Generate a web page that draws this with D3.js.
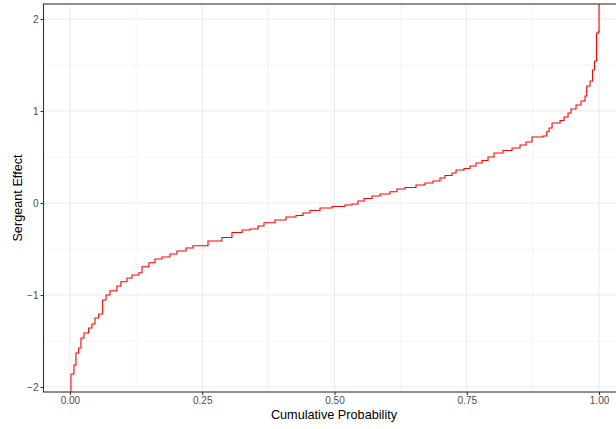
<!DOCTYPE html>
<html>
<head>
<meta charset="utf-8">
<script src="https://cdn.jsdelivr.net/npm/d3@7"></script>
<style>
  body { margin: 0; background: #fff; }
  svg { display: block; font-family: "Liberation Sans", Arial, sans-serif; }
</style>
</head>
<body>
<svg width="616" height="429"></svg>
<script>
// quantile curve (step after each point)
var prob = [0.0, 0.0019, 0.0076, 0.0113, 0.0164, 0.0208, 0.0265, 0.0353, 0.0416, 0.0473,
    0.0543, 0.0618, 0.0681, 0.0756, 0.0888, 0.0964, 0.1078, 0.1172, 0.1304, 0.1361,
    0.1493, 0.1607, 0.1739, 0.189, 0.2023, 0.2193, 0.2325, 0.2609, 0.2873, 0.3062,
    0.3251, 0.3403, 0.3554, 0.3667, 0.3875, 0.4083, 0.4272, 0.4405, 0.4537, 0.4726,
    0.4953, 0.5198, 0.5331, 0.5444, 0.5558, 0.5709, 0.586, 0.6049, 0.6181, 0.6333,
    0.6541, 0.6711, 0.6862, 0.6994, 0.7089, 0.7221, 0.7297, 0.7448, 0.7561, 0.7675,
    0.7788, 0.7902, 0.8015, 0.8185, 0.8355, 0.8507, 0.862, 0.8733, 0.8941, 0.9011,
    0.9055, 0.9112, 0.9263, 0.9338, 0.9414, 0.9471, 0.9565, 0.966, 0.9735, 0.9767,
    0.983, 0.9877, 0.9915, 0.9953, 0.999, 1.0];
var effect = [-2.3, -1.859, -1.761, -1.630, -1.576, -1.467, -1.413, -1.359, -1.315, -1.250,
    -1.207, -1.054, -1.000, -0.953, -0.902, -0.855, -0.815, -0.783, -0.758, -0.692,
    -0.649, -0.609, -0.587, -0.554, -0.522, -0.489, -0.464, -0.413, -0.375, -0.321,
    -0.293, -0.283, -0.250, -0.214, -0.185, -0.152, -0.136, -0.109, -0.082, -0.054,
    -0.038, -0.022, -0.011, 0.022, 0.049, 0.076, 0.098, 0.123, 0.152, 0.168,
    0.196, 0.217, 0.239, 0.272, 0.299, 0.326, 0.359, 0.375, 0.402, 0.435,
    0.462, 0.500, 0.543, 0.571, 0.598, 0.630, 0.663, 0.717, 0.728, 0.775,
    0.815, 0.870, 0.897, 0.935, 0.978, 1.022, 1.065, 1.109, 1.163, 1.272,
    1.326, 1.446, 1.543, 1.848, 1.864, 2.3];

var xTicks = [0, 0.25, 0.5, 0.75, 1];
var xMinor = [0.125, 0.375, 0.625, 0.875];
var yTicks = [-2, -1, 0, 1, 2];
var yMinor = [-1.5, -0.5, 0.5, 1.5];

var data = prob.map(function(p, i){ return {p: p, v: effect[i]}; });

var pLeft = 43.5, pRight = 625.5, pTop = 4, pBottom = 392;

var svg = d3.select('svg');

var x = d3.scaleLinear().domain([-0.05, 1.05]).range([pLeft, pRight]);
var y = d3.scaleLinear().domain([-2.054, 2.163]).range([pBottom, pTop]);

svg.append('defs').append('clipPath').attr('id', 'panel')
    .append('rect')
    .attr('x', pLeft).attr('y', pTop)
    .attr('width', pRight - pLeft).attr('height', pBottom - pTop);

var grid = svg.append('g');

grid.selectAll('.xminor').data(xMinor).enter().append('line')
    .attr('x1', function(d){ return x(d); }).attr('x2', function(d){ return x(d); })
    .attr('y1', pTop).attr('y2', pBottom)
    .attr('stroke', '#ebebeb').attr('stroke-width', 0.55);
grid.selectAll('.yminor').data(yMinor).enter().append('line')
    .attr('y1', function(d){ return y(d); }).attr('y2', function(d){ return y(d); })
    .attr('x1', pLeft).attr('x2', pRight)
    .attr('stroke', '#ebebeb').attr('stroke-width', 0.55);
grid.selectAll('.xmajor').data(xTicks).enter().append('line')
    .attr('x1', function(d){ return x(d); }).attr('x2', function(d){ return x(d); })
    .attr('y1', pTop).attr('y2', pBottom)
    .attr('stroke', '#ebebeb').attr('stroke-width', 1.1);
grid.selectAll('.ymajor').data(yTicks).enter().append('line')
    .attr('y1', function(d){ return y(d); }).attr('y2', function(d){ return y(d); })
    .attr('x1', pLeft).attr('x2', pRight)
    .attr('stroke', '#ebebeb').attr('stroke-width', 1.1);

var line = d3.line()
    .x(function(d){ return x(d.p); })
    .y(function(d){ return y(d.v); })
    .curve(d3.curveStepAfter);

svg.append('path')
    .datum(data)
    .attr('clip-path', 'url(#panel)')
    .attr('fill', 'none')
    .attr('stroke', '#ff0000')
    .attr('stroke-width', 1.1)
    .attr('d', line);

// panel border
svg.append('rect')
    .attr('x', pLeft).attr('y', pTop)
    .attr('width', pRight - pLeft).attr('height', pBottom - pTop)
    .attr('fill', 'none').attr('stroke', '#333333').attr('stroke-width', 1.1);

var xAxis = d3.axisBottom(x).tickValues(xTicks).tickSize(3).tickSizeOuter(0)
    .tickFormat(d3.format('.2f'));
var yAxis = d3.axisLeft(y).tickValues(yTicks).tickSize(3).tickSizeOuter(0)
    .tickFormat(d3.format('d'));

var gx = svg.append('g').attr('transform', 'translate(0,' + pBottom + ')').call(xAxis);
var gy = svg.append('g').attr('transform', 'translate(' + pLeft + ',0)').call(yAxis);

[gx, gy].forEach(function(g){
    g.select('.domain').remove();
    g.selectAll('.tick line').attr('stroke', '#333333').attr('stroke-width', 1.1);
    g.selectAll('.tick text').attr('fill', '#4d4d4d')
        .style('font-size', '10px').style('font-family', '"Liberation Sans", Arial, sans-serif');
});
gx.selectAll('.tick text').attr('dy', '0.71em').attr('y', 5);
gy.selectAll('.tick text').attr('x', -5);

svg.append('text')
    .attr('x', (pLeft + pRight) / 2 - 0.5)
    .attr('y', 419)
    .attr('text-anchor', 'middle')
    .style('font-size', '12.7px')
    .text('Cumulative Probability');

svg.append('text')
    .attr('transform', 'translate(22,' + ((pTop + pBottom) / 2) + ') rotate(-90)')
    .attr('text-anchor', 'middle')
    .style('font-size', '12.7px')
    .text('Sergeant Effect');
</script>
</body>
</html>
